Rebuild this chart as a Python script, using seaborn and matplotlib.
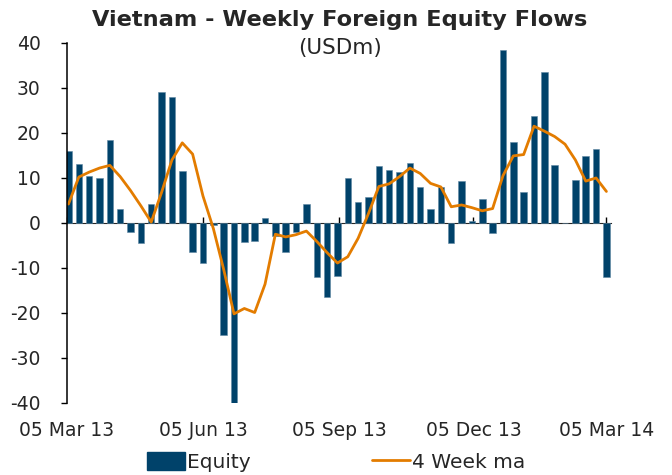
import matplotlib
matplotlib.use("Agg")
import matplotlib.pyplot as plt
import matplotlib.dates as mdates
from matplotlib.patches import Patch
from matplotlib.lines import Line2D
from matplotlib.ticker import NullFormatter
import numpy as np
import pandas as pd
import seaborn as sns

# weekly foreign equity flows, USDm (from 06 Mar 13)
weeks = pd.date_range("2013-03-06", periods=53, freq="7D")
equity = [16, 13, 10.5, 10, 18.5, 3, -2, -4.5, 4.2, 29, 28, 11.5, -6.5, -9, -0.5,
          -25, -46, -4.2, -4, 1.2, -3, -6.5, -2, 4.2, -12, -16.5, -11.8, 10, 4.6, 5.7,
          12.6, 11.8, 11.3, 13.3, 8, 3.1, 8, -4.5, 9.4, 0.5, 5.3, -2.3, 38.4, 18, 6.9,
          23.8, 33.5, 12.9, 0, 9.6, 14.9, 16.4, -12]
ma4 = [4.2, 10.2, 11.3, 12.2, 12.8, 10.3, 7.2, 3.8, 0.2, 6.8, 14.0, 17.8, 15.3, 6.0, -1.2,
       -10.3, -20.2, -19.0, -19.9, -13.6, -2.5, -3.1, -2.6, -1.8, -4.1, -6.6, -8.9, -7.5,
       -3.4, 2.1, 8.1, 8.7, 10.3, 12.2, 11.0, 8.8, 8.0, 3.6, 4.0, 3.4, 2.7, 3.2, 10.5,
       14.9, 15.2, 21.5, 20.4, 19.2, 17.5, 14.0, 9.3, 10.0, 7.0]
tick_dates = pd.to_datetime(["2013-03-05", "2013-06-05", "2013-09-05", "2013-12-05", "2014-03-05"])
tick_labels = ["05 Mar 13", "05 Jun 13", "05 Sep 13", "05 Dec 13", "05 Mar 14"]
y_ticks = [-40, -30, -20, -10, 0, 10, 20, 30, 40]

navy = "#00426A"
orange = "#E37C00"

sns.set_style("white")
plt.rcParams["font.family"] = ["DejaVu Sans"]
plt.rcParams["axes.unicode_minus"] = False

df = pd.DataFrame({"week": mdates.date2num(weeks), "equity": equity, "ma4": ma4})
xt = mdates.date2num(tick_dates)

fig = plt.figure(figsize=(6.72, 4.75), dpi=100)
ax = fig.add_axes([0.0997, 0.1516, 0.8093, 0.758])

ax.bar(df["week"], df["equity"], width=4.4, color=navy, edgecolor="#5F87A3", linewidth=0.4)
sns.lineplot(x="week", y="ma4", data=df, ax=ax, color=orange, linewidth=2.0, legend=False)

ax.set_xlim(xt[0], xt[-1] + 3)
ax.set_ylim(-40, 40)
ax.set_yticks(y_ticks)
ax.set_xticks(xt)
ax.set_xticklabels(tick_labels)
ax.set_xlabel("")
ax.set_ylabel("")

for s in ["top", "right", "bottom"]:
    ax.spines[s].set_visible(False)
ax.spines["left"].set_color("black")
ax.spines["left"].set_linewidth(1.1)
ax.tick_params(axis="y", direction="out", length=4.5, width=1, color="black",
               labelsize=13.5, pad=14.5, left=True)
ax.tick_params(axis="x", length=0, labelsize=13.5, pad=13)

# zero line carrying the date ticks
sec = ax.secondary_xaxis(0.5)
sec.set_xticks(xt)
sec.xaxis.set_major_formatter(NullFormatter())
sec.tick_params(axis="x", direction="out", length=4.5, width=1, color="black")
sec.spines["bottom"].set_bounds(xt[0], xt[-1])
sec.spines["bottom"].set_linewidth(1.1)
sec.spines["bottom"].set_color("black")

fig.text(0.506, 0.957, "Vietnam - Weekly Foreign Equity Flows", ha="center", va="center",
         fontsize=16.2, fontweight="bold")
fig.text(0.506, 0.899, "(USDm)", ha="center", va="center", fontsize=15.5)

handles = [Patch(facecolor=navy, edgecolor=navy), Line2D([], [], color=orange, linewidth=2.0)]
fig.legend(handles, ["Equity", "4 Week ma"], loc="center", bbox_to_anchor=(0.5, 0.027),
           ncol=2, frameon=False, fontsize=14.5, handlelength=1.9, handleheight=1.0,
           handletextpad=0.1, columnspacing=6.0)

fig.savefig("out.png", dpi=100)
